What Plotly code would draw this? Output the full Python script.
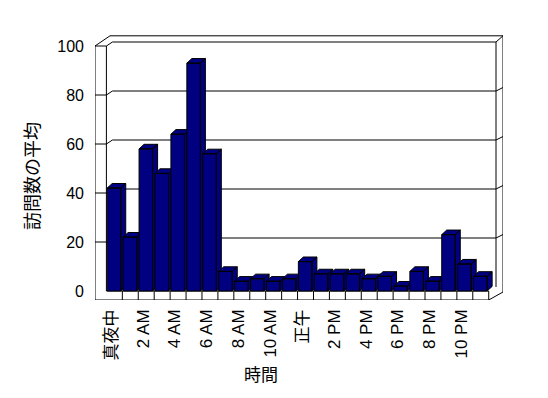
import plotly.graph_objects as go

# ---------------- data ----------------
categories = ["真夜中", "1 AM", "2 AM", "3 AM", "4 AM", "5 AM", "6 AM", "7 AM",
              "8 AM", "9 AM", "10 AM", "11 AM", "正午", "1 PM", "2 PM", "3 PM",
              "4 PM", "5 PM", "6 PM", "7 PM", "8 PM", "9 PM", "10 PM", "11 PM"]
visits = [42, 22, 58, 48, 64, 93, 56, 8, 4, 5, 4, 5,
          12, 7, 7, 7, 5, 6, 2, 8, 4, 23, 11, 6]
y_ticks = [0, 20, 40, 60, 80, 100]
x_title = "時間"
y_title = "訪問数の平均"

# ---------------- geometry (pixels of the 548x398 window) ----------------
W, H = 548, 398
BODY = 8                                       # default page margin around the plot div
L_PX, R_PX, T_PX, B_PX = 95, 503, 35, 300     # plot area box (window px)
X0_PX, SLOT = 106.4, 15.93                     # first category slot start, slot width
Y0_PX, YS = 291.0, 2.45                        # front zero line, px per unit
BAR_DX, BAR_DY = 5.0, 4.6                      # bar depth offset (px)
WALL_DX, WALL_DY = 6.0, 4.0                    # back wall offset (px)


def ux(px):
    return (px - X0_PX) / SLOT


def uy(py):
    return (Y0_PX - py) / YS


def py_of(v):
    return Y0_PX - v * YS


def px_of(u):
    return X0_PX + u * SLOT


NAVY = "#000080"
FONT = "Liberation Sans, Arial, Noto Sans CJK JP, sans-serif"

fig = go.Figure()

# ---------------- frame (walls and floor) ----------------
shapes = []


def seg(points):
    d = "M " + " L ".join(f"{ux(x):.4f},{uy(y):.4f}" for x, y in points)
    shapes.append(dict(type="path", path=d, xref="x", yref="y",
                       line=dict(color="black", width=1), layer="below"))


top_front = py_of(100)
top_back = top_front - WALL_DY
outer_top = top_back - 6.2
left_in = X0_PX
back_left = left_in + WALL_DX
back_right = 496.0
floor_right = px_of(len(categories))

# left wall
seg([(L_PX, B_PX), (L_PX, top_front), (left_in, top_front), (left_in, Y0_PX)])
seg([(L_PX, top_front), (L_PX + 15, outer_top), (R_PX, outer_top), (R_PX, B_PX - 8)])
seg([(left_in, top_front), (back_left, top_back), (back_right, top_back),
     (R_PX, outer_top)])
seg([(back_right, top_back), (back_right, Y0_PX - WALL_DY)])
# gridlines on back wall
for v in y_ticks[1:-1]:
    yf = py_of(v)
    yb = yf - WALL_DY
    seg([(L_PX, yf), (left_in, yf), (back_left, yb), (back_right, yb),
         (R_PX, yb - 3.5)])
# floor
seg([(L_PX, B_PX), (floor_right, B_PX), (R_PX, B_PX - 8)])
seg([(left_in, Y0_PX), (floor_right, Y0_PX), (floor_right, B_PX)])
for k in range(1, len(categories)):
    xk = px_of(k)
    seg([(xk, Y0_PX), (xk, B_PX)])

# ---------------- 3D bars ----------------
ddx = BAR_DX / SLOT
ddy = BAR_DY / YS
for i, v in enumerate(visits):
    left = i + 0.05
    right = i + 0.9
    xs = [right, right + ddx, right + ddx, right, right, None,
          left, right, right + ddx, left + ddx, left, None,
          left, right, right, left, left]
    ys = [0, ddy, v + ddy, v, 0, None,
          v, v, v + ddy, v + ddy, v, None,
          0, 0, v, v, 0]
    fig.add_trace(go.Scatter(
        x=xs, y=ys, mode="lines", fill="toself", fillcolor=NAVY,
        line=dict(color="black", width=1), hoverinfo="skip",
        showlegend=False, name=categories[i]))

# ---------------- axes ----------------
label_idx = list(range(0, len(categories), 2))
fig.update_layout(
    width=W - BODY, height=H - BODY,
    margin=dict(l=L_PX - BODY, r=W - R_PX, t=T_PX - BODY, b=H - B_PX, pad=0),
    paper_bgcolor="white", plot_bgcolor="white",
    font=dict(family=FONT, color="black", size=16),
    shapes=shapes,
    xaxis=dict(range=[ux(L_PX), ux(R_PX)], showgrid=False, zeroline=False,
               showline=False, ticks="", tickangle=-90,
               tickvals=[i + 0.3 for i in label_idx],
               ticktext=[categories[i] for i in label_idx],
               tickfont=dict(size=17, family=FONT, color="black"),
               ticklabelstandoff=5, automargin=False, fixedrange=True),
    yaxis=dict(range=[uy(B_PX), uy(T_PX)], showgrid=False, zeroline=False,
               showline=False, ticks="", tickvals=y_ticks,
               ticktext=[str(t) for t in y_ticks],
               tickfont=dict(size=16, family=FONT, color="black"),
               ticklabelstandoff=10, automargin=False, fixedrange=True),
    annotations=[
        dict(text=x_title, xref="paper", yref="paper",
             x=(261 - L_PX) / (R_PX - L_PX), y=(B_PX - 375) / (B_PX - T_PX),
             showarrow=False, font=dict(size=17, family=FONT, color="black"),
             xanchor="center", yanchor="middle"),
        dict(text=y_title, xref="paper", yref="paper",
             x=(33 - L_PX) / (R_PX - L_PX), y=(B_PX - 176) / (B_PX - T_PX),
             showarrow=False, textangle=-90,
             font=dict(size=18, family=FONT, color="black"),
             xanchor="center", yanchor="middle"),
    ],
)

fig.write_html("out.html")
